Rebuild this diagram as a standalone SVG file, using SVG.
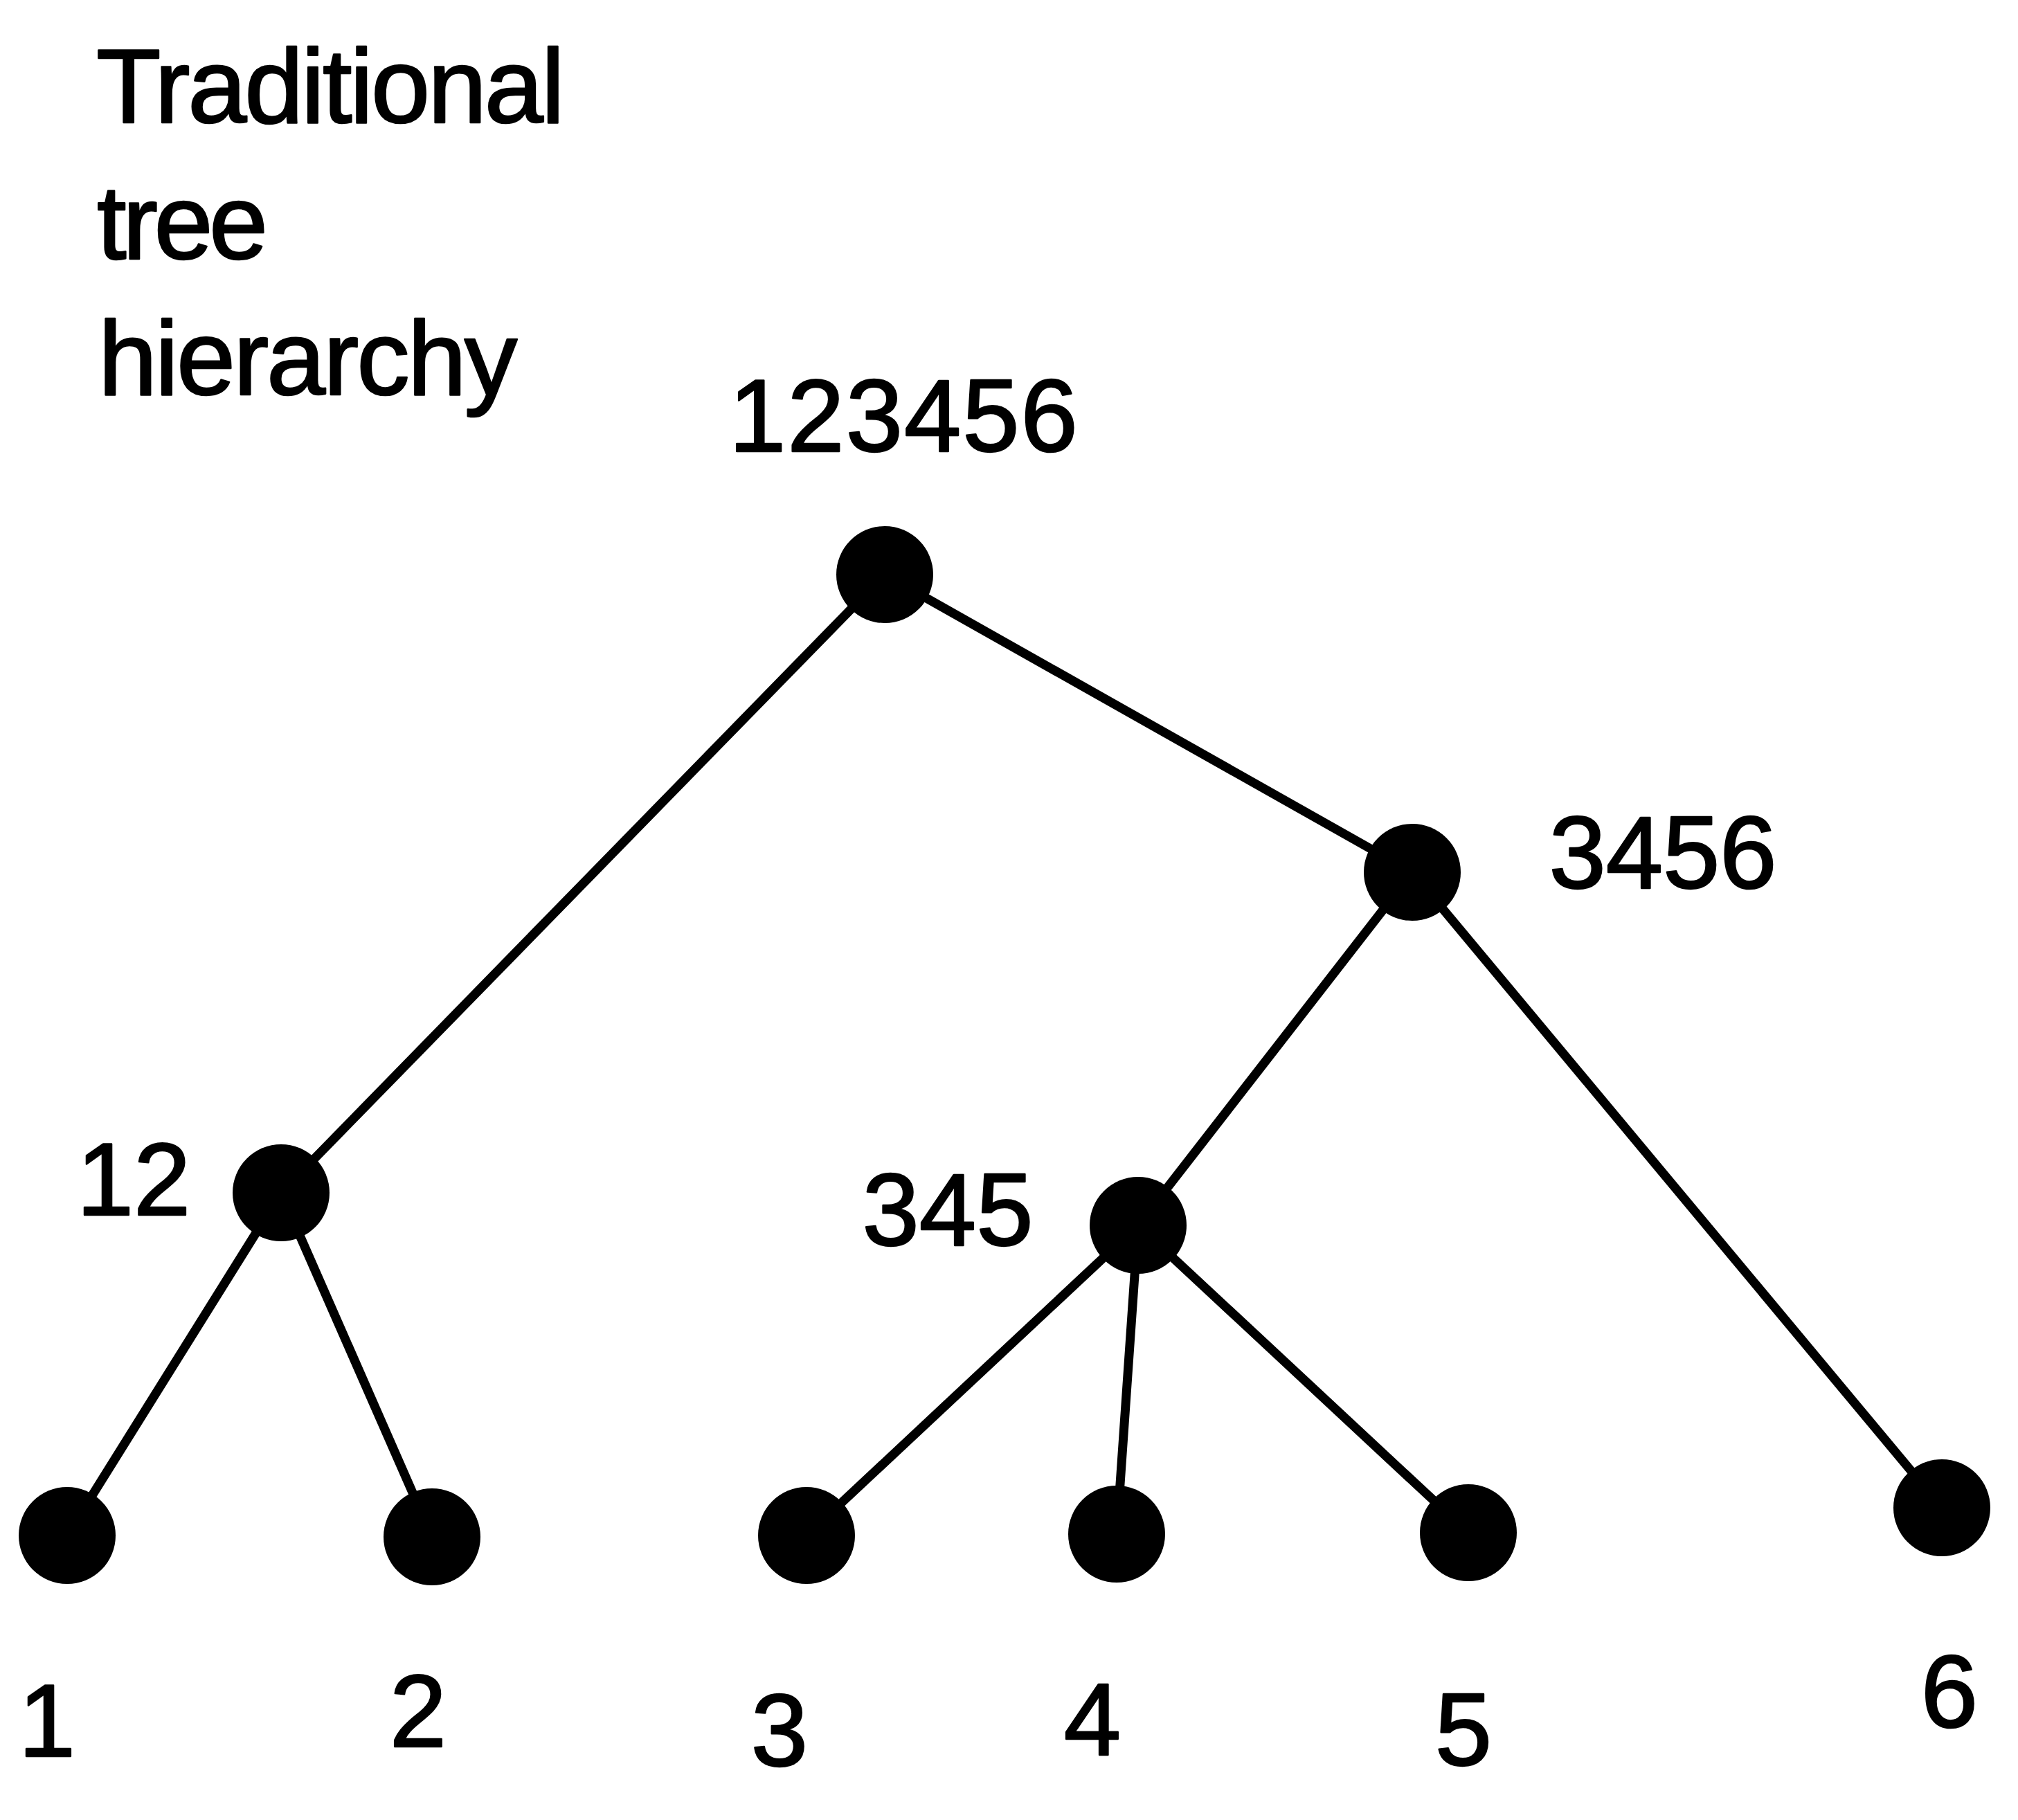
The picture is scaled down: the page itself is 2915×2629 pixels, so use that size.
<svg xmlns="http://www.w3.org/2000/svg" width="2915" height="2629" viewBox="0 0 2915 2629">
  <style>
    .edge { stroke: #000; stroke-width: 13; stroke-linecap: round; fill: none; }
    .dot { fill: #000; }
    .title { font-family: "Liberation Sans", Arial, sans-serif; font-size: 153px; fill: #000; stroke: #000; stroke-width: 2.5; stroke-linejoin: round; }
    .lbl { font-family: "Liberation Sans", Arial, sans-serif; font-size: 148px; fill: #000; stroke: #000; stroke-width: 2.5; stroke-linejoin: round; }
    .mid { text-anchor: middle; }
  </style>
  <rect width="2915" height="2629" fill="#fff"/>

  <!-- heading -->
  <g id="heading">
    <text class="title" x="139" y="177" letter-spacing="-3.2">Traditional</text>
    <text class="title" x="140" y="374" letter-spacing="-5.5">tree</text>
    <text class="title" x="142" y="570" letter-spacing="-3">hierarchy</text>
  </g>

  <!-- connectors -->
  <g id="connectors">
    <line class="edge" x1="1278" y1="830" x2="406" y2="1723"/>
    <line class="edge" x1="1278" y1="830" x2="2040" y2="1260"/>
    <line class="edge" x1="406" y1="1723" x2="97" y2="2218"/>
    <line class="edge" x1="406" y1="1723" x2="624" y2="2220"/>
    <line class="edge" x1="2040" y1="1260" x2="1644" y2="1770"/>
    <line class="edge" x1="2040" y1="1260" x2="2805" y2="2178"/>
    <line class="edge" x1="1644" y1="1770" x2="1165" y2="2218"/>
    <line class="edge" x1="1644" y1="1770" x2="1613" y2="2216" stroke-width="9"/>
    <line class="edge" x1="1644" y1="1770" x2="2121" y2="2214"/>
  </g>

  <!-- nodes -->
  <g id="node-123456">
    <circle class="dot" cx="1278" cy="830" r="70"/>
    <text class="lbl mid" x="1306" y="652" letter-spacing="2">123456</text>
  </g>
  <g id="node-3456">
    <circle class="dot" cx="2040" cy="1260" r="70"/>
    <text class="lbl mid" x="2402" y="1283">3456</text>
  </g>
  <g id="node-12">
    <circle class="dot" cx="406" cy="1723" r="70"/>
    <text class="lbl mid" x="193" y="1755">12</text>
  </g>
  <g id="node-345">
    <circle class="dot" cx="1644" cy="1770" r="70"/>
    <text class="lbl mid" x="1369" y="1799">345</text>
  </g>
  <g id="node-1">
    <circle class="dot" cx="97" cy="2218" r="70"/>
    <text class="lbl mid" x="68" y="2537">1</text>
  </g>
  <g id="node-2">
    <circle class="dot" cx="624" cy="2220" r="70"/>
    <text class="lbl mid" x="604" y="2523">2</text>
  </g>
  <g id="node-3">
    <circle class="dot" cx="1165" cy="2218" r="70"/>
    <text class="lbl mid" x="1126" y="2551">3</text>
  </g>
  <g id="node-4">
    <circle class="dot" cx="1613" cy="2216" r="70"/>
    <text class="lbl mid" x="1578" y="2535">4</text>
  </g>
  <g id="node-5">
    <circle class="dot" cx="2121" cy="2214" r="70"/>
    <text class="lbl mid" x="2114" y="2550">5</text>
  </g>
  <g id="node-6">
    <circle class="dot" cx="2805" cy="2178" r="70"/>
    <text class="lbl mid" x="2816" y="2495">6</text>
  </g>
</svg>
